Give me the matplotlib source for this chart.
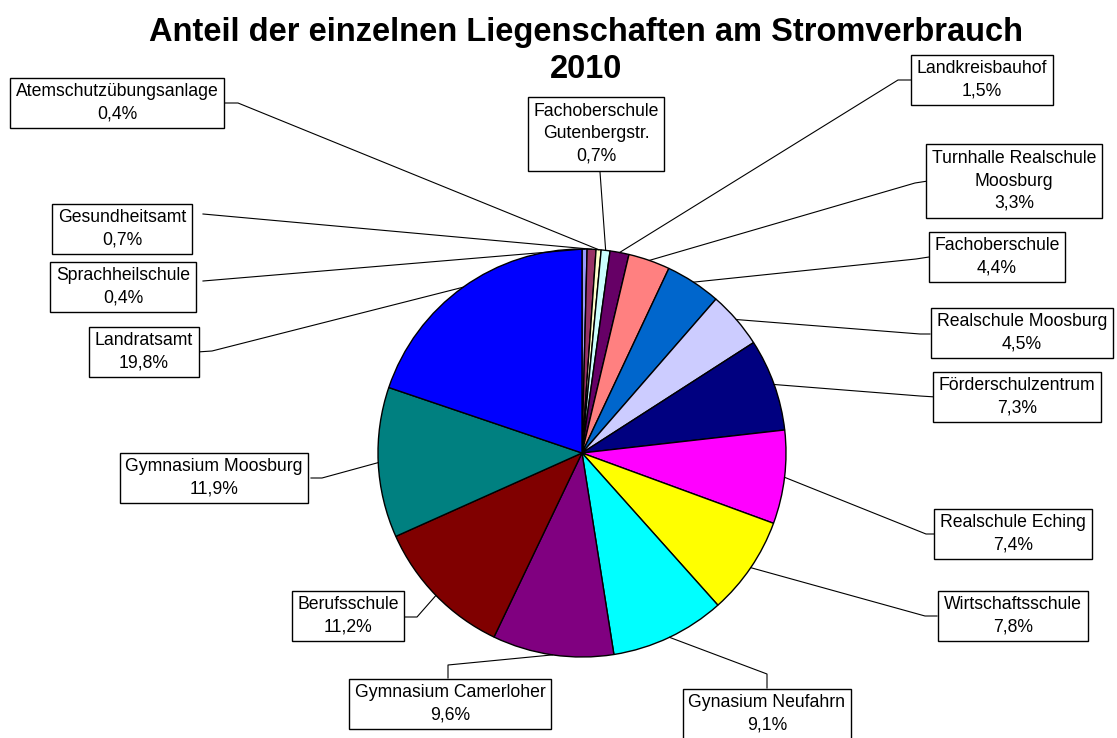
import numpy as np
import matplotlib
matplotlib.use("Agg")
import matplotlib.pyplot as plt

plt.rcParams['font.family'] = ['Liberation Sans', 'DejaVu Sans']

# slices in drawing order (clockwise from 12 o'clock)
names = ["Sprachheilschule", "Gesundheitsamt", "Atemschutzübungsanlage",
         "Fachoberschule\nGutenbergstr.", "Landkreisbauhof",
         "Turnhalle Realschule\nMoosburg", "Fachoberschule",
         "Realschule Moosburg", "Förderschulzentrum", "Realschule Eching",
         "Wirtschaftsschule", "Gynasium Neufahrn", "Gymnasium Camerloher",
         "Berufsschule", "Gymnasium Moosburg", "Landratsamt"]
values = [0.4, 0.7, 0.4, 0.7, 1.5, 3.3, 4.4, 4.5, 7.3, 7.4, 7.8, 9.1, 9.6,
          11.2, 11.9, 19.8]
colors = ["#9999FF", "#993366", "#FFFFCC", "#CCFFFF", "#660066", "#FF8080",
          "#0066CC", "#CCCCFF", "#000080", "#FF00FF", "#FFFF00", "#00FFFF",
          "#800080", "#800000", "#008080", "#0000FF"]

# label layout in pixels (y down): text centre, box anchor, elbow
text_pos = [(123, 287), (122, 229), (117, 103), (596, 134), (982, 80),
            (1014, 181), (997, 257), (1022, 333), (1017, 397), (1013, 534),
            (1013, 616), (767, 714), (450, 704), (348, 616), (214, 478),
            (144, 352)]
anchor = [(203, 281), (203, 214), (224, 103), (600, 172), (912, 80),
          (928, 181), (929, 257), (930, 334), (936, 397), (938, 534),
          (937, 616), (767, 688), (448, 678), (404, 617), (311, 478),
          (197, 352)]
elbow = [None, None, (238, 103), None, (898, 80),
         (915, 183), (916, 259), (920, 334), (920, 396), (926, 534),
         (925, 616), (767, 674), (448, 665), (417, 617), (322, 478),
         (212, 351)]

W, H = 1117, 738
cx, cy, R = 582, 453, 204

fig = plt.figure(figsize=(W / 100, H / 100), dpi=100)
ax = fig.add_axes([0, 0, 1, 1])
wedges, _ = ax.pie(values, colors=colors, startangle=90, counterclock=False,
                   center=(cx, H - cy), radius=R,
                   wedgeprops=dict(edgecolor='black', linewidth=1))
ax.set_xlim(0, W)
ax.set_ylim(0, H)
ax.set_aspect('equal')
ax.axis('off')

for i, w in enumerate(wedges):
    mid = np.deg2rad((w.theta1 + w.theta2) / 2)
    ex, ey = cx + R * np.cos(mid), (H - cy) + R * np.sin(mid)
    pts = [anchor[i]]
    if elbow[i] is not None:
        pts.append(elbow[i])
    xs = [p[0] for p in pts] + [ex]
    ys = [H - p[1] for p in pts] + [ey]
    ax.plot(xs, ys, color='black', lw=0.8, zorder=1)
    lab = names[i] + "\n" + f"{values[i]:.1f}%".replace('.', ',')
    tx, ty = text_pos[i]
    ax.text(tx, H - ty, lab, ha='center', va='center', fontsize=12.7,
            linespacing=1.42, zorder=3,
            bbox=dict(boxstyle='square,pad=0.32', fc='white', ec='black', lw=1))

fig.text(586 / W, 1 - 32 / H, "Anteil der einzelnen Liegenschaften am Stromverbrauch",
         ha='center', va='center', fontsize=23.5, fontweight='bold')
fig.text(586 / W, 1 - 69 / H, "2010", ha='center', va='center',
         fontsize=23.5, fontweight='bold')

fig.savefig("out.png", dpi=100)
